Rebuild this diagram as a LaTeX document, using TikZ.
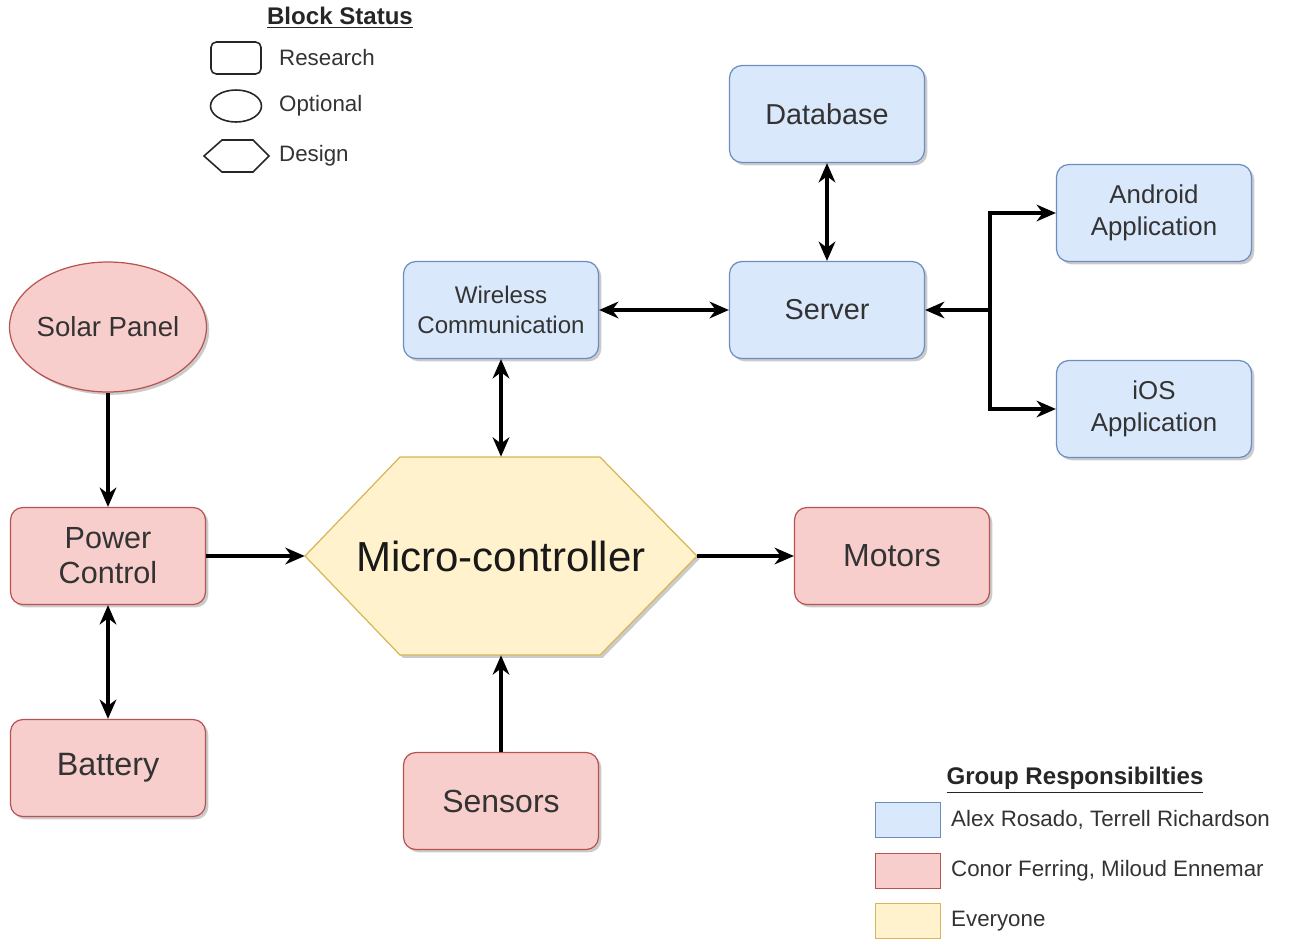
\documentclass[tikz,border=0pt]{standalone}
\usepackage{fontspec}
\setmainfont{Liberation Sans}
\usetikzlibrary{arrows.meta,shadows,shapes.geometric}

\definecolor{blueFill}{HTML}{DAE8FC}
\definecolor{blueLine}{HTML}{6C8EBF}
\definecolor{redFill}{HTML}{F8CECC}
\definecolor{redLine}{HTML}{B85450}
\definecolor{yellowFill}{HTML}{FFF2CC}
\definecolor{yellowLine}{HTML}{D6B656}

\tikzset{
  shade/.style={drop shadow={shadow xshift=1.6pt,shadow yshift=-1.6pt,fill=black!45,opacity=0.45}},
  block/.style={rectangle, rounded corners=7pt, minimum width=3.9cm, minimum height=1.94cm,
    align=center, text=black!80, line width=0.7pt, shade},
  bluebox/.style={block, fill=blueFill, draw=blueLine},
  redbox/.style={block, fill=redFill, draw=redLine},
  conn/.style={line width=1.8pt, -{Stealth[length=11pt,width=9.5pt,inset=3.5pt]}},
  biconn/.style={line width=1.8pt, {Stealth[length=11pt,width=9.5pt,inset=3.5pt]}-{Stealth[length=11pt,width=9.5pt,inset=3.5pt]}},
  legshape/.style={draw=black!85, line width=0.9pt, minimum width=1cm, minimum height=0.64cm},
  legswatch/.style={line width=0.8pt, minimum width=1.3cm, minimum height=0.7cm},
  legtext/.style={anchor=west, text=black!80, font=\fontsize{12.7pt}{15pt}\selectfont}
}

\begin{document}
\begin{tikzpicture}[x=0.02cm, y=-0.02cm]

    \useasboundingbox (0,0) rectangle (1296,941);

    % Server side blocks
    \node[bluebox, font=\fontsize{16.4pt}{19pt}\selectfont] (db) at (827,114) {Database};
    \node[bluebox, font=\fontsize{16.4pt}{19pt}\selectfont] (server) at (827,310) {Server};
    \node[bluebox, font=\fontsize{13.7pt}{17pt}\selectfont] (wireless) at (501,310) {Wireless\\Communication};
    \node[bluebox, font=\fontsize{14.7pt}{18pt}\selectfont] (android) at (1154,213) {Android\\Application};
    \node[bluebox, font=\fontsize{14.7pt}{18pt}\selectfont] (ios) at (1154,409) {iOS\\Application};

    % Power side blocks
    \node[ellipse, fill=redFill, draw=redLine, line width=0.7pt, shade, text=black!80, inner sep=0pt,
      minimum width=3.94cm, minimum height=2.6cm, font=\fontsize{15.7pt}{19pt}\selectfont] (solar) at (108,327) {\makebox[2cm]{Solar Panel}};
    \node[redbox, font=\fontsize{17.4pt}{20pt}\selectfont] (power) at (108,556) {Power\\Control};
    \node[redbox, font=\fontsize{18.4pt}{21pt}\selectfont] (battery) at (108,768) {Battery};
    \node[redbox, font=\fontsize{18.2pt}{21pt}\selectfont] (sensors) at (501,801) {Sensors};
    \node[redbox, font=\fontsize{18.2pt}{21pt}\selectfont] (motors) at (892,556) {Motors};

    % Micro-controller hexagon
    \path[fill=yellowFill, draw=yellowLine, line width=0.7pt, shade]
      (305,556) -- (400,457) -- (600,457) -- (697,556) -- (600,655) -- (400,655) -- cycle;
    \node[minimum width=7.84cm, minimum height=3.96cm, text=black!90,
      font=\fontsize{23.9pt}{28pt}\selectfont] (micro) at (501,556) {Micro-controller};

    % Arrows between the server blocks
    \draw[biconn] (db) -- (server);
    \draw[biconn] (wireless) -- (server);
    \coordinate (fork) at (990,310);
    \draw[conn] (fork) -- (server);
    \draw[conn] (fork) |- (android);
    \draw[conn] (fork) |- (ios);

    % Arrows into and out of the micro-controller
    \draw[biconn] (wireless) -- (micro);
    \draw[conn] (power) -- (micro);
    \draw[conn] (micro) -- (motors);
    \draw[conn] (sensors) -- (micro);

    % Arrows on the power side
    \draw[conn] (solar) -- (power);
    \draw[biconn] (power) -- (battery);

    % Legend: block status
    \node[font=\bfseries\fontsize{13.7pt}{16pt}\selectfont, text=black!85] (statustitle) at (340,18) {\underline{Block Status}};
    \node[legshape, rounded corners=3pt] (lgresearch) at (236,58) {};
    \node[legtext] (lgresearchtxt) at (273,58) {Research};
    \node[legshape, ellipse, minimum width=1.02cm] (lgoptional) at (236,106) {};
    \node[legtext] (lgoptionaltxt) at (273,106) {Optional};
    \draw[draw=black!85, line width=0.9pt] (204,156) -- (222,140) -- (253,140) -- (269,156) -- (253,172) -- (222,172) -- cycle;
    \node[legtext] (lgdesigntxt) at (273,156) {Design};

    % Legend: group responsibilities
    \node[font=\bfseries\fontsize{13.7pt}{16pt}\selectfont, text=black!85] (grouptitle) at (1075,780) {\underline{Group Responsibilties}};
    \node[legswatch, fill=blueFill, draw=blueLine] (lgblue) at (908,820) {};
    \node[legtext] (lgbluetxt) at (945,820) {Alex Rosado, Terrell Richardson};
    \node[legswatch, fill=redFill, draw=redLine] (lgred) at (908,871) {};
    \node[legtext] (lgredtxt) at (945,871) {Conor Ferring, Miloud Ennemar};
    \node[legswatch, fill=yellowFill, draw=yellowLine] (lgyellow) at (908,921) {};
    \node[legtext] (lgyellowtxt) at (945,921) {Everyone};

\end{tikzpicture}
\end{document}
